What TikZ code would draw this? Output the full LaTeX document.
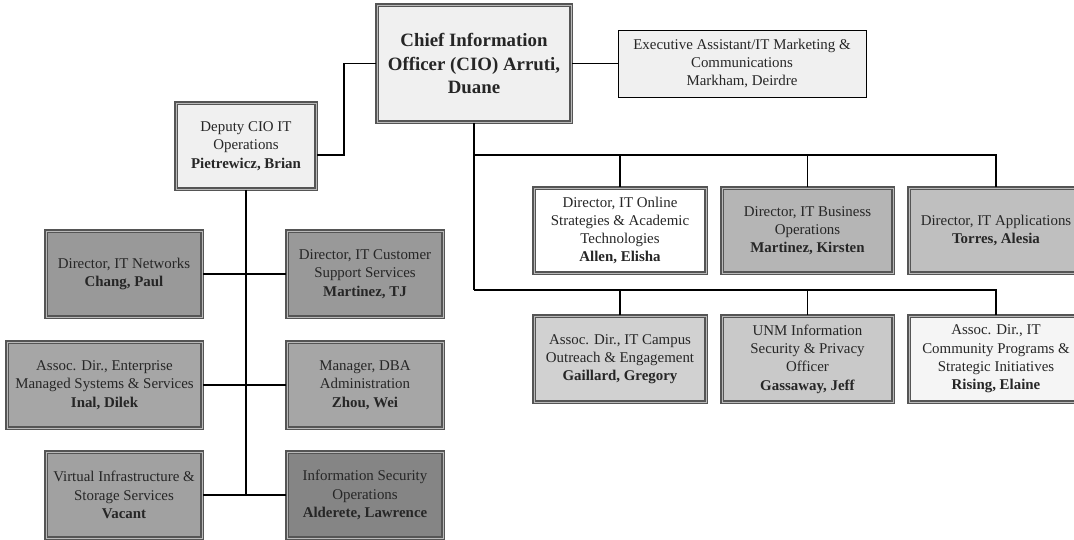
\documentclass[tikz,border=0pt]{standalone}
\usepackage{fontspec}
\setmainfont{Liberation Serif}
\usetikzlibrary{positioning}

\definecolor{paleg}{HTML}{F0F0F0}
\definecolor{boxline}{HTML}{555555}

\tikzset{
  unit/.style={draw=boxline, line width=1.3pt, double=gray!55, double distance=0.4pt,
    inner sep=0pt, align=center, font=\fontsize{10.6}{13}\selectfont, text=black!85},
  boxw/.style={minimum width=#1*0.025cm},
  boxh/.style={minimum height=#1*0.025cm},
  link/.style={draw=black, line width=1.2pt}
}

\begin{document}
\begin{tikzpicture}[x=0.025cm, y=-0.025cm]
   \useasboundingbox (0,0) rectangle (1074,540);
   % connectors
   \coordinate (bend) at (344,63.5);
   \coordinate (row1) at (474,155);
   \coordinate (row2) at (474,290);
   \coordinate (spine) at (246,495);
   % top
   \node[unit, fill=paleg, boxw=194, boxh=117, font=\fontsize{13.4}{16.8}\selectfont\bfseries]
     (cio) at (474,63.5) {Chief Information\\Officer (CIO) Arruti,\\Duane};
   \node[unit, fill=paleg, draw=black, line width=0.7pt, double=none, boxw=248, boxh=67]
     (exec) at (742,63.5) {Executive Assistant/IT Marketing \&\\Communications\\Markham, Deirdre};
   \node[unit, fill=paleg, boxw=140, boxh=86]
     (dep) at (246,146) {Deputy CIO IT\\Operations\\\textbf{Pietrewicz, Brian}};
   % left branch
   \node[unit, fill=black!40, boxw=156, boxh=86]
     (net) at (124,274) {Director, IT Networks\\\textbf{Chang, Paul}};
   \node[unit, fill=black!40, boxw=156, boxh=86]
     (cust) at (365,274) {Director, IT Customer\\Support Services\\\textbf{Martinez, TJ}};
   \node[unit, fill=black!35, boxw=195, boxh=86]
     (ent) at (104.5,385) {Assoc. Dir., Enterprise\\Managed Systems \& Services\\\textbf{Inal, Dilek}};
   \node[unit, fill=black!35, boxw=156, boxh=86]
     (dba) at (365,385) {Manager, DBA\\Administration\\\textbf{Zhou, Wei}};
   \node[unit, fill=black!37, boxw=156, boxh=86]
     (virt) at (124,495) {Virtual Infrastructure \&\\Storage Services\\\textbf{Vacant}};
   \node[unit, fill=black!48, boxw=156, boxh=86]
     (sec) at (365,495) {Information Security\\Operations\\\textbf{Alderete, Lawrence}};
   % right branch
   \node[unit, fill=white, boxw=172, boxh=85]
     (online) at (620,230.5) {Director, IT Online\\Strategies \& Academic\\Technologies\\\textbf{Allen, Elisha}};
   \node[unit, fill=black!29, boxw=171, boxh=85]
     (bus) at (807.5,230.5) {Director, IT Business\\Operations\\\textbf{Martinez, Kirsten}};
   \node[unit, fill=black!25, boxw=174, boxh=85]
     (app) at (996,230.5) {Director, IT Applications\\\textbf{Torres, Alesia}};
   \node[unit, fill=black!18, boxw=172, boxh=86]
     (campus) at (620,359) {Assoc. Dir., IT Campus\\Outreach \& Engagement\\\textbf{Gaillard, Gregory}};
   \node[unit, fill=black!21, boxw=171, boxh=86]
     (unm) at (807.5,359) {UNM Information\\Security \& Privacy\\Officer\\\textbf{Gassaway, Jeff}};
   \node[unit, fill=black!4, boxw=174, boxh=86]
     (rising) at (996,359) {Assoc. Dir., IT\\Community Programs \&\\Strategic Initiatives\\\textbf{Rising, Elaine}};

   \draw[link] (cio.east) -- (exec.west);
   \draw[link] (cio.west) -- (bend) |- ([yshift=-0.225cm]dep.east);
   \draw[link] (cio.south) -- (row2);
   \foreach \n in {online,bus,app} \draw[link] (row1) -| (\n.north);
   \foreach \n in {campus,unm,rising} \draw[link] (row2) -| (\n.north);
   \draw[link] (dep.south) -- (spine);
   \draw[link] (net.east) -- (cust.west);
   \draw[link] (ent.east) -- (dba.west);
   \draw[link] (virt.east) -- (sec.west);
\end{tikzpicture}
\end{document}
